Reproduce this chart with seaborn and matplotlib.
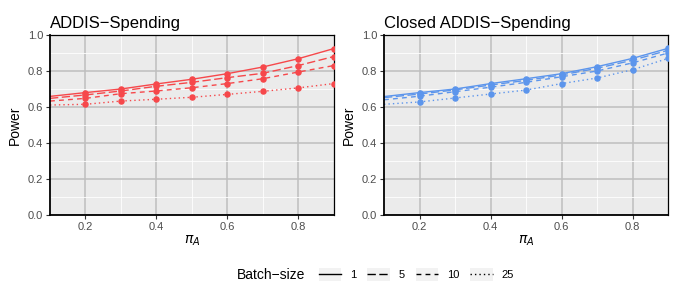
import numpy as np
import pandas as pd
import matplotlib
matplotlib.use("Agg")
import matplotlib.pyplot as plt
import seaborn as sns
from matplotlib.legend_handler import HandlerLine2D
from matplotlib.patches import Rectangle
from matplotlib.lines import Line2D

# ---------------- data ----------------
pi_a = [0.1, 0.2, 0.3, 0.4, 0.5, 0.6, 0.7, 0.8, 0.9]
batch_sizes = ["1", "5", "10", "25"]
x_ticks = [0.2, 0.4, 0.6, 0.8]
x_tick_labels = ["0.2", "0.4", "0.6", "0.8"]
y_ticks = [0.0, 0.2, 0.4, 0.6, 0.8, 1.0]
y_tick_labels = ["0.0", "0.2", "0.4", "0.6", "0.8", "1.0"]

addis_1 = [0.659, 0.680, 0.700, 0.728, 0.754, 0.785, 0.822, 0.868, 0.924]
addis_5 = [0.648, 0.667, 0.689, 0.715, 0.737, 0.763, 0.787, 0.830, 0.880]
addis_10 = [0.633, 0.648, 0.674, 0.689, 0.707, 0.730, 0.757, 0.794, 0.830]
addis_25 = [0.611, 0.615, 0.633, 0.643, 0.654, 0.670, 0.687, 0.706, 0.730]

closed_1 = [0.658, 0.680, 0.700, 0.730, 0.757, 0.785, 0.824, 0.870, 0.926]
closed_5 = [0.652, 0.672, 0.695, 0.722, 0.748, 0.778, 0.815, 0.860, 0.915]
closed_10 = [0.640, 0.660, 0.685, 0.710, 0.737, 0.768, 0.800, 0.845, 0.900]
closed_25 = [0.615, 0.628, 0.650, 0.672, 0.694, 0.730, 0.761, 0.807, 0.870]

panels = [
    ("ADDIS\u2212Spending", [addis_1, addis_5, addis_10, addis_25], "#F6484B"),
    ("Closed ADDIS\u2212Spending", [closed_1, closed_5, closed_10, closed_25], "#5C95EC"),
]

dash_map = {"1": "", "5": (6, 2.5), "10": (3.5, 3), "25": (1, 2.2)}

plt.rcParams["font.family"] = ["Liberation Sans", "DejaVu Sans"]
plt.rcParams["axes.unicode_minus"] = True

fig = plt.figure(figsize=(6.81, 3.07), dpi=100)
ax_pos = [[50 / 681, 1 - 215 / 307, 283.5 / 681, 180 / 307],
          [384 / 681, 1 - 215 / 307, 284 / 681, 180 / 307]]

for (title, series, color), pos in zip(panels, ax_pos):
    ax = fig.add_axes(pos)
    rows = []
    for b, vals in zip(batch_sizes, series):
        for x, y in zip(pi_a, vals):
            rows.append({"pi": x, "power": y, "batch": b})
    df = pd.DataFrame(rows)
    ax.set_facecolor("#EBEBEB")
    sns.lineplot(data=df, x="pi", y="power", style="batch", style_order=batch_sizes,
                 dashes=dash_map, color=color, linewidth=1.0, ax=ax, legend=False,
                 estimator=None, sort=True)
    pts = df[df["pi"] >= 0.15]
    sns.scatterplot(data=pts, x="pi", y="power", color=color, s=22, linewidth=0,
                    ax=ax, legend=False, clip_on=True, zorder=3)
    ax.set_xlim(0.1, 0.9)
    ax.set_ylim(0.0, 1.0)
    ax.set_xticks(x_ticks)
    ax.set_xticklabels(x_tick_labels)
    ax.set_xticks([0.1, 0.3, 0.5, 0.7, 0.9], minor=True)
    ax.set_yticks(y_ticks)
    ax.set_yticklabels(y_tick_labels)
    ax.set_yticks([0.1, 0.3, 0.5, 0.7, 0.9], minor=True)
    ax.grid(which="major", color="#BEBEBE", linewidth=1.1)
    ax.grid(which="minor", color="white", linewidth=0.6)
    ax.set_axisbelow(True)
    ax.tick_params(which="major", length=3, width=0.8, color="#333333",
                   labelsize=8, labelcolor="#4D4D4D", pad=2)
    ax.tick_params(which="minor", length=0)
    for s in ["left", "bottom"]:
        ax.spines[s].set_linewidth(1.3)
        ax.spines[s].set_color("black")
    for s in ["top", "right"]:
        ax.spines[s].set_linewidth(0.9)
        ax.spines[s].set_color("black")
    ax.set_xlabel(r"$\pi_A$", fontsize=10, labelpad=1)
    ax.set_ylabel("Power", fontsize=10, labelpad=4)
    ax.set_title(title, loc="left", fontsize=12, pad=5)


class BoxHandler(HandlerLine2D):
    def create_artists(self, legend, orig_handle, xdescent, ydescent,
                       width, height, fontsize, trans):
        arts = super().create_artists(legend, orig_handle, xdescent, ydescent,
                                      width, height, fontsize, trans)
        rect = Rectangle((-xdescent, -ydescent - height * 0.35), width, height * 1.7,
                         facecolor="#F2F2F2", edgecolor="none", transform=trans)
        return [rect] + list(arts)


handles = []
for b in batch_sizes:
    d = dash_map[b]
    h = Line2D([0], [0], color="black", linewidth=1.0)
    if d:
        h.set_dashes(d)
    handles.append(h)

leg = fig.legend(handles, batch_sizes, loc="center left",
                 bbox_to_anchor=(309 / 681, 1 - 275 / 307), ncol=4, frameon=False,
                 fontsize=8, handlelength=2.0, handletextpad=0.8, columnspacing=1.0,
                 handler_map={Line2D: BoxHandler()})
fig.text(305 / 681, 1 - 275 / 307, "Batch\u2212size", ha="right", va="center", fontsize=10)

fig.savefig("out.png", dpi=100)
